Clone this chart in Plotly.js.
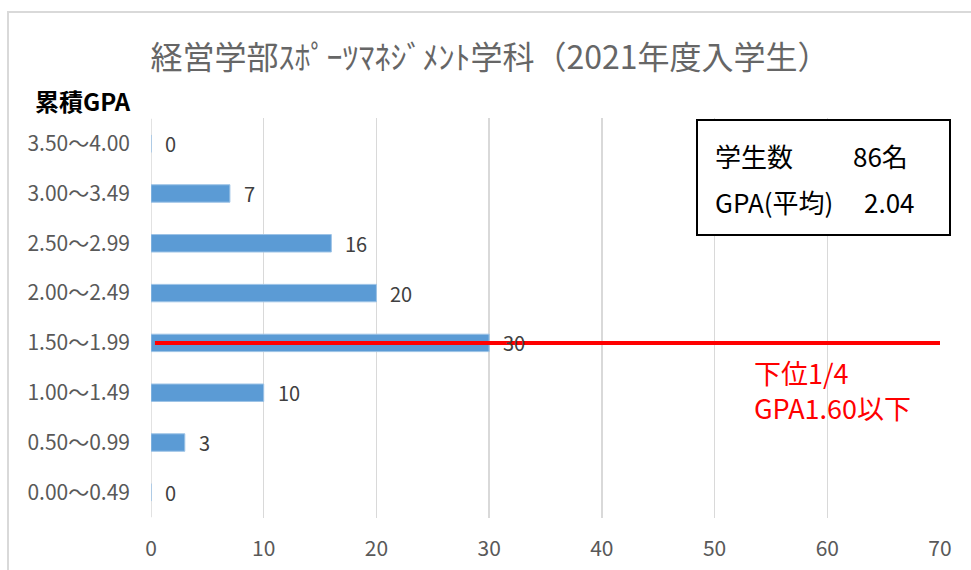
<!DOCTYPE html>
<html>
<head>
<meta charset="utf-8">
<script src="https://cdn.plot.ly/plotly-3.0.1.min.js"></script>
<style>html,body{margin:0;padding:0;background:#fff;}#chart{width:971px;height:570px;}</style>
</head>
<body>
<div id="chart"></div>
<script>
const categories = ["3.50～4.00","3.00～3.49","2.50～2.99","2.00～2.49","1.50～1.99","1.00～1.49","0.50～0.99","0.00～0.49"];
const counts = [0, 7, 16, 20, 30, 10, 3, 0];
const xTicks = [0, 10, 20, 30, 40, 50, 60, 70];
const titleText = "経営学部ｽﾎﾟｰﾂﾏﾈｼﾞﾒﾝﾄ学科（2021年度入学生）";
const yAxisLabel = "累積GPA";
const studentsLabel = "学生数";
const studentsValue = "86名";
const gpaLabel = "GPA(平均)";
const gpaValue = "2.04";
const thresholdCategory = "1.50～1.99";
const thresholdText = "下位1/4<br>GPA1.60以下";

const W = 971, H = 570;
const mL = 151, mR = 31, mT = 118, mB = 52;
const pw = W - mL - mR, ph = H - mT - mB;
const px = v => (v - mL) / pw;
const py = v => (H - mB - v) / ph;

const font = "'Noto Sans CJK JP', 'Noto Sans', sans-serif";

const trace = {
  type: 'bar', orientation: 'h',
  x: counts, y: categories,
  width: 0.35,
  marker: {color: '#5B9BD5', line: {color: '#9DC3E6', width: 1}},
  hoverinfo: 'skip'
};

const annotations = counts.map((v, i) => ({
  x: v, y: categories[i], xref: 'x', yref: 'y',
  text: String(v), showarrow: false, xanchor: 'left', yanchor: 'middle',
  xshift: 12, font: {family: font, size: 20, color: '#404040'}
}));

annotations.push({
  xref: 'paper', yref: 'paper', x: px(33), y: py(100), xanchor: 'left', yanchor: 'middle',
  text: '<b>' + yAxisLabel + '</b>', showarrow: false,
  font: {family: font, size: 24, color: '#000'}
});
annotations.push({
  xref: 'paper', yref: 'paper', x: px(713), y: py(155), xanchor: 'left', yanchor: 'middle',
  text: studentsLabel, showarrow: false, font: {family: font, size: 26, color: '#000'}
});
annotations.push({
  xref: 'paper', yref: 'paper', x: px(851), y: py(155), xanchor: 'left', yanchor: 'middle',
  text: studentsValue, showarrow: false, font: {family: font, size: 26, color: '#000'}
});
annotations.push({
  xref: 'paper', yref: 'paper', x: px(713), y: py(201), xanchor: 'left', yanchor: 'middle',
  text: gpaLabel, showarrow: false, font: {family: font, size: 26, color: '#000'}
});
annotations.push({
  xref: 'paper', yref: 'paper', x: px(862), y: py(201), xanchor: 'left', yanchor: 'middle',
  text: gpaValue, showarrow: false, font: {family: font, size: 26, color: '#000'}
});
annotations.push({
  xref: 'paper', yref: 'paper', x: px(752), y: py(390), xanchor: 'left', yanchor: 'middle',
  text: thresholdText, showarrow: false, align: 'left',
  font: {family: font, size: 27, color: '#FF0000'}
});

const layout = {
  width: W, height: H,
  margin: {l: mL, r: mR, t: mT, b: mB, pad: 0},
  paper_bgcolor: '#fff', plot_bgcolor: '#fff',
  showlegend: false,
  title: {text: titleText, x: 490 / W, xref: 'container', xanchor: 'center', y: 1 - 58 / H, yanchor: 'middle',
          font: {family: font, size: 32, color: '#666666'}},
  xaxis: {
    range: [0, 70], tickvals: xTicks, ticktext: xTicks.map(String),
    showgrid: true, gridcolor: '#D9D9D9', gridwidth: 1.5,
    zeroline: false, showline: false, ticks: '',
    ticklabelstandoff: 16,
    tickfont: {family: font, size: 21, color: '#595959'}, fixedrange: true
  },
  yaxis: {
    type: 'category', categoryorder: 'array', categoryarray: categories,
    autorange: 'reversed', showgrid: false, zeroline: false, showline: false, ticks: '',
    ticklabelstandoff: 20,
    tickfont: {family: font, size: 21, color: '#595959'}, fixedrange: true
  },
  shapes: [
    {type: 'line', xref: 'x', yref: 'y', x0: 0, x1: 0, y0: -0.5, y1: 7.5,
     line: {color: '#D9D9D9', width: 1.5}, layer: 'below'},
    {type: 'line', xref: 'x', yref: 'y', x0: 0.35, x1: 70, y0: thresholdCategory, y1: thresholdCategory,
     line: {color: '#FF0000', width: 4}},
    {type: 'rect', xref: 'paper', yref: 'paper', x0: px(697), x1: px(950), y0: py(120), y1: py(235),
     line: {color: '#000', width: 2}, fillcolor: '#fff'},
    {type: 'rect', xref: 'paper', yref: 'paper', x0: px(8), x1: px(985), y0: py(12), y1: py(590),
     line: {color: '#D9D9D9', width: 2}, fillcolor: 'rgba(0,0,0,0)', layer: 'below'}
  ],
  annotations: annotations
};

Plotly.newPlot('chart', [trace], layout, {displayModeBar: false, staticPlot: true});
</script>
</body>
</html>
